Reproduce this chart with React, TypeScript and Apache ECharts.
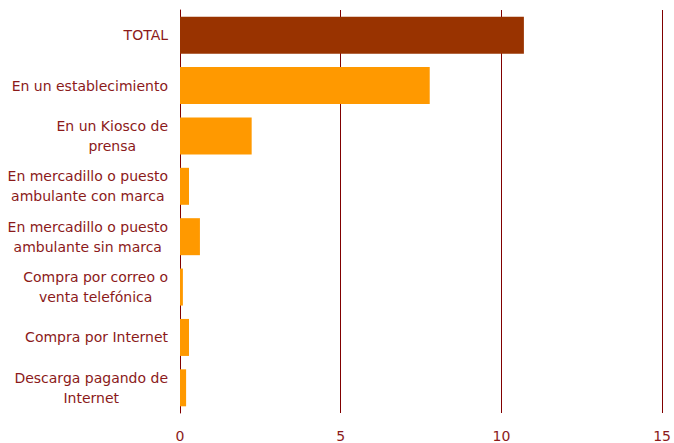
import React, { useEffect, useRef } from "react";
import * as echarts from "echarts";

const categories = [
  "TOTAL",
  "En un establecimiento",
  "En un Kiosco de\nprensa",
  "En mercadillo o puesto\nambulante con marca",
  "En mercadillo o puesto\nambulante sin marca",
  "Compra por correo o\nventa telefónica",
  "Compra por Internet",
  "Descarga pagando de\nInternet",
];
const values = [10.7, 7.77, 2.23, 0.28, 0.62, 0.09, 0.28, 0.19];
const barColors = ["#993300", "#FF9900", "#FF9900", "#FF9900", "#FF9900", "#FF9900", "#FF9900", "#FF9900"];
const xTicks = [0, 5, 10, 15];

export default function App() {
  const ref = useRef<HTMLDivElement>(null);
  useEffect(() => {
    if (!ref.current) return;
    const chart = echarts.init(ref.current, undefined, { renderer: "svg" });
    chart.setOption({
      animation: false,
      grid: { left: 180, right: 9, top: 10, bottom: 29, containLabel: false },
      xAxis: {
        type: "value",
        min: xTicks[0],
        max: xTicks[xTicks.length - 1],
        interval: 5,
        axisLine: { show: false },
        axisTick: { show: false },
        splitLine: { show: true, lineStyle: { color: "#800000", width: 1 } },
        axisLabel: {
          color: "#8B1A1A",
          fontFamily: "DejaVu Sans",
          fontSize: 14,
          margin: 16,
        },
      },
      yAxis: {
        type: "category",
        inverse: true,
        data: categories,
        axisLine: { show: true, lineStyle: { color: "#800000", width: 1 } },
        axisTick: { show: false },
        axisLabel: {
          color: "#8B1A1A",
          fontFamily: "DejaVu Sans",
          fontSize: 14,
          margin: 12,
          lineHeight: 20,
          formatter: (v: string) =>
            v
              .split("\n")
              .map((l) => `{c|${l}}`)
              .join("\n"),
          rich: {
            c: {
              align: "center",
              color: "#8B1A1A",
              fontFamily: "DejaVu Sans",
              fontSize: 14,
              lineHeight: 20,
            },
          },
        },
      },
      series: [
        {
          type: "bar",
          data: values.map((v, i) => ({ value: v, itemStyle: { color: barColors[i] } })),
          barWidth: 37,
        },
      ],
    });
    return () => chart.dispose();
  }, []);
  return <div ref={ref} style={{ width: 674, height: 443, position: "absolute", left: 0, top: 0 }} />;
}
